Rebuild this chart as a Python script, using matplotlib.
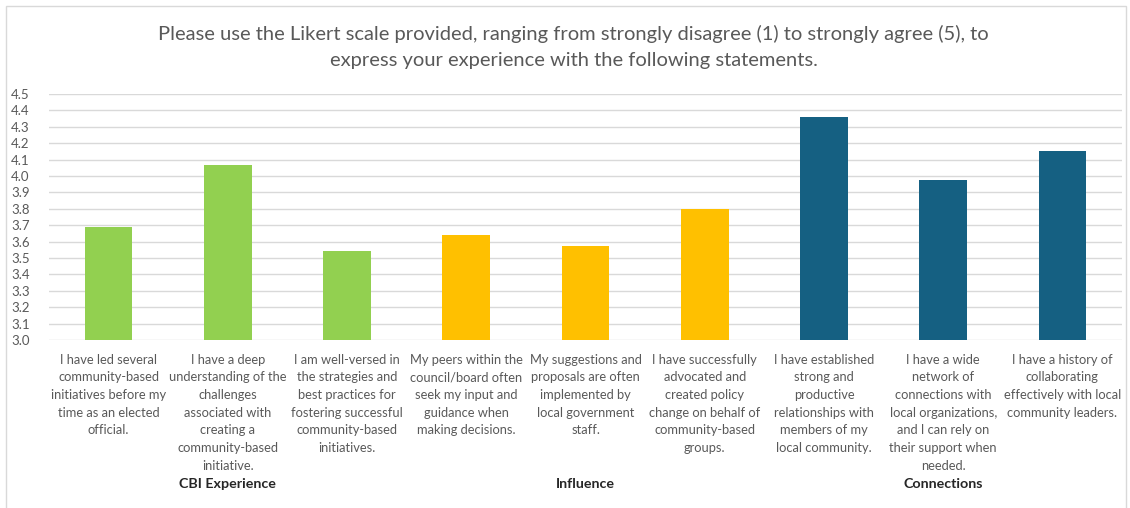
import matplotlib.pyplot as plt
import matplotlib.patches as mpatches

plt.rcParams['font.family'] = ['Lato', 'DejaVu Sans']

# Survey statements (wrapped the way they show under the axis)
statements = [
    "I have led several\ncommunity-based\ninitiatives before my\ntime as an elected\nofficial.",
    "I have a deep\nunderstanding of the\nchallenges\nassociated with\ncreating a\ncommunity-based\ninitiative.",
    "I am well-versed in\nthe strategies and\nbest practices for\nfostering successful\ncommunity-based\ninitiatives.",
    "My peers within the\ncouncil/board often\nseek my input and\nguidance when\nmaking decisions.",
    "My suggestions and\nproposals are often\nimplemented by\nlocal government\nstaff.",
    "I have successfully\nadvocated and\ncreated policy\nchange on behalf of\ncommunity-based\ngroups.",
    "I have established\nstrong and\nproductive\nrelationships with\nmembers of my\nlocal community.",
    "I have a wide\nnetwork of\nconnections with\nlocal organizations,\nand I can rely on\ntheir support when\nneeded.",
    "I have a history of\ncollaborating\neffectively with local\ncommunity leaders.",
]
mean_scores = [3.69, 4.07, 3.54, 3.64, 3.575, 3.80, 4.36, 3.975, 4.155]
groups = ["CBI Experience", "Influence", "Connections"]
group_sizes = [3, 3, 3]
group_colors = ["#92D050", "#FFC000", "#156082"]

title = ("Please use the Likert scale provided, ranging from strongly disagree (1) to strongly agree (5), to\n"
         "express your experience with the following statements.")

fig = plt.figure(figsize=(11.3, 5.08), dpi=100)
ax = fig.add_axes([49 / 1130, 1 - 340 / 508, (1122 - 49) / 1130, (340 - 94) / 508])

colors = []
for c, n in zip(group_colors, group_sizes):
    colors += [c] * n

x = list(range(len(mean_scores)))
ax.bar(x, [v - 3.0 for v in mean_scores], bottom=3.0, width=0.4, color=colors, zorder=3)

ax.set_xlim(-0.5, len(x) - 0.5)
ax.set_ylim(3.0, 4.5)
ax.set_yticks([3.0 + 0.1 * i for i in range(16)])
ax.set_yticklabels([f"{3.0 + 0.1 * i:.1f}" for i in range(16)], fontsize=9.5, color="#595959")
ax.tick_params(axis='y', length=0, pad=14)
ax.tick_params(axis='x', length=0, labelbottom=False)
ax.grid(axis='y', color="#D9D9D9", linewidth=1.0, zorder=0)
for s in ax.spines.values():
    s.set_visible(False)

# statement labels under each bar
trans = ax.get_xaxis_transform()
for xi, lab in zip(x, statements):
    ax.text(xi, -0.055, lab, transform=trans, ha='center', va='top',
            fontsize=9.3, color="#595959", linespacing=1.57)

# group names under each block of bars
start = 0
for g, n in zip(groups, group_sizes):
    ax.text(start + (n - 1) / 2, -0.585, g, transform=trans, ha='center', va='center',
            fontsize=10.3, fontweight='bold', color="#262626")
    start += n

fig.text(0.5075, 1 - 47 / 508, title, ha='center', va='center', fontsize=14.5,
         color="#595959", linespacing=1.7)

# light frame around the chart area
fig.patches.append(mpatches.Rectangle((6 / 1130, -0.01), 1120 / 1130, 1 - 6 / 508 + 0.01,
                                      transform=fig.transFigure, fill=False,
                                      edgecolor="#D9D9D9", linewidth=1.0))

fig.savefig("out.png", dpi=100)
